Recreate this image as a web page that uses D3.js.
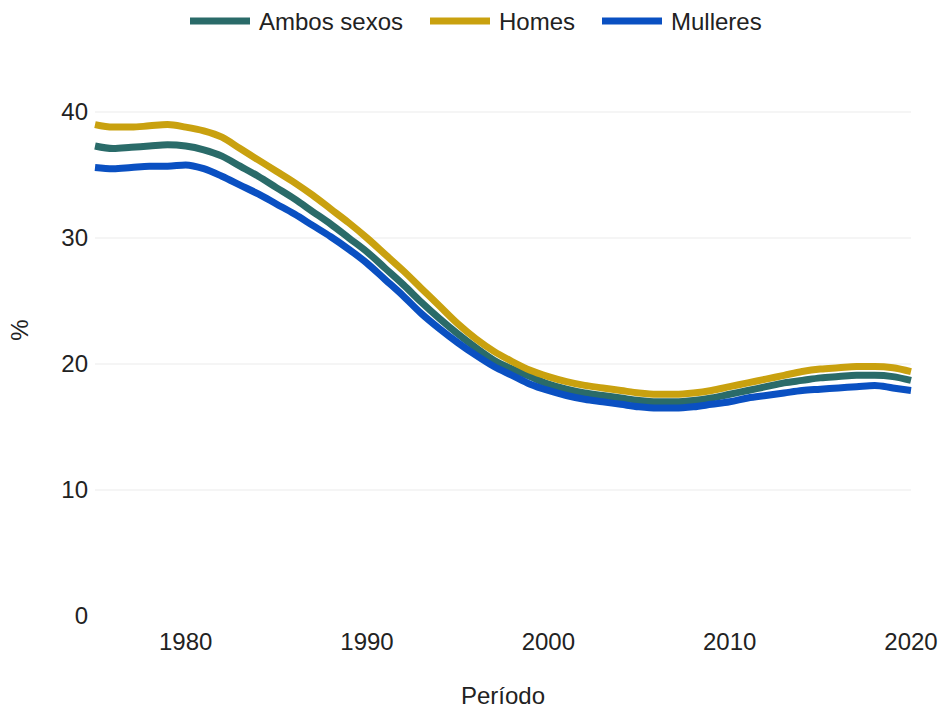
<!DOCTYPE html>
<html lang="gl">
<head>
    <meta charset="utf-8">
    <script src="https://cdn.jsdelivr.net/npm/d3@7"></script>
    <style>
        body { margin: 0; background: #fff; }
        text { font-family: "Liberation Sans", Arial, sans-serif; fill: #222; font-size: 24px; }
        .grid line { stroke: #ebebeb; stroke-width: 1px; }
        .serie { fill: none; stroke-width: 7px; stroke-linejoin: round; stroke-linecap: butt; }
    </style>
</head>
<body>
<script>
    // anos 1975..2020
    const anos = d3.range(1975, 2021);

    const ambos = [37.3, 37.1, 37.2, 37.3, 37.4, 37.3, 37.0, 36.5, 35.7, 34.9,
        34.0, 33.1, 32.1, 31.1, 30.0, 28.9, 27.6, 26.3, 24.9, 23.6,
        22.4, 21.3, 20.3, 19.6, 19.0, 18.4, 18.0, 17.7, 17.5, 17.3,
        17.1, 17.0, 17.0, 17.1, 17.3, 17.6, 17.9, 18.2, 18.5, 18.7,
        18.9, 19.0, 19.1, 19.1, 19.0, 18.7];
    const homes = [39.0, 38.8, 38.8, 38.9, 39.0, 38.8, 38.5, 38.0, 37.1, 36.2,
        35.3, 34.4, 33.4, 32.3, 31.2, 30.0, 28.7, 27.4, 26.0, 24.6,
        23.2, 22.0, 21.0, 20.2, 19.5, 19.0, 18.6, 18.3, 18.1, 17.9,
        17.7, 17.6, 17.6, 17.7, 17.9, 18.2, 18.5, 18.8, 19.1, 19.4,
        19.6, 19.7, 19.8, 19.8, 19.7, 19.4];
    const mulleres = [35.6, 35.5, 35.6, 35.7, 35.7, 35.8, 35.5, 34.9, 34.2, 33.5,
        32.7, 31.9, 31.0, 30.1, 29.1, 28.0, 26.7, 25.4, 24.0, 22.8,
        21.7, 20.7, 19.8, 19.1, 18.4, 17.9, 17.5, 17.2, 17.0, 16.8,
        16.6, 16.5, 16.5, 16.6, 16.8, 17.0, 17.3, 17.5, 17.7, 17.9,
        18.0, 18.1, 18.2, 18.3, 18.1, 17.9];

    const series = [
        {nome: 'Ambos sexos', valores: ambos, cor: '#2a6b69'},
        {nome: 'Homes', valores: homes, cor: '#c9a10f'},
        {nome: 'Mulleres', valores: mulleres, cor: '#0a50c2'}
    ];
    const ticksY = [0, 10, 20, 30, 40];
    const ticksX = [1980, 1990, 2000, 2010, 2020];

    const svg = d3.select('body').append('svg')
        .attr('width', 943).attr('height', 711);

    const x = d3.scaleLinear().domain([1975, 2020]).range([95, 911]);
    const y = d3.scaleLinear().domain([0, 40]).range([616, 112]);

    // grella
    svg.append('g').attr('class', 'grid')
        .selectAll('line').data(ticksY.filter(d => d > 0)).enter().append('line')
        .attr('x1', 95).attr('x2', 911)
        .attr('y1', d => y(d)).attr('y2', d => y(d));

    // eixo Y
    svg.append('g').selectAll('text').data(ticksY).enter().append('text')
        .attr('x', 88).attr('y', d => y(d))
        .attr('dy', '0.35em').attr('text-anchor', 'end')
        .text(d => d);

    // eixo X
    svg.append('g').selectAll('text').data(ticksX).enter().append('text')
        .attr('x', d => x(d)).attr('y', 642)
        .attr('dy', '0.35em').attr('text-anchor', 'middle')
        .text(d => d);

    svg.append('text').attr('x', 503).attr('y', 696)
        .attr('dy', '0.35em').attr('text-anchor', 'middle')
        .text('Período');

    svg.append('text').attr('transform', 'translate(20,330) rotate(-90)')
        .attr('dy', '0.35em').attr('text-anchor', 'middle')
        .text('%');

    // liñas
    const liña = d3.line()
        .x((d, i) => x(anos[i]))
        .y(d => y(d))
        .curve(d3.curveMonotoneX);

    svg.append('g').selectAll('path').data(series).enter().append('path')
        .attr('class', 'serie')
        .attr('stroke', d => d.cor)
        .attr('d', d => liña(d.valores));

    // lenda
    const lendaX = [190, 430, 602];
    const lenda = svg.append('g').selectAll('g').data(series).enter().append('g')
        .attr('transform', (d, i) => 'translate(' + lendaX[i] + ',21)');
    lenda.append('line')
        .attr('x1', 0).attr('x2', 60).attr('y1', 0).attr('y2', 0)
        .attr('stroke', d => d.cor).attr('stroke-width', 7);
    lenda.append('text')
        .attr('x', 69).attr('y', 1).attr('dy', '0.35em')
        .text(d => d.nome);
</script>
</body>
</html>
